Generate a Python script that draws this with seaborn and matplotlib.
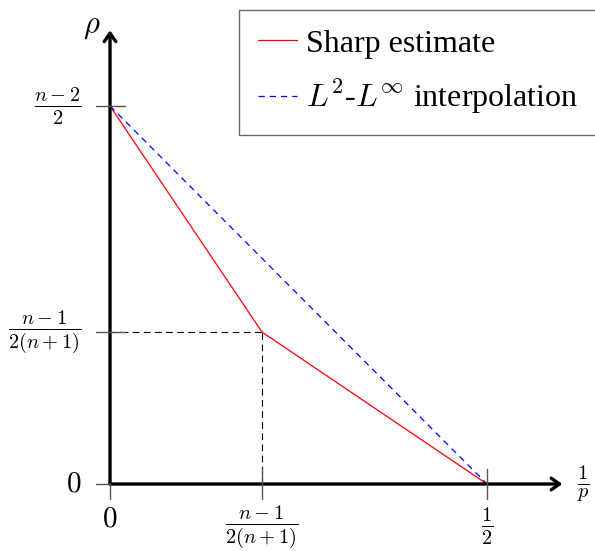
import matplotlib
matplotlib.use("Agg")
import matplotlib.pyplot as plt
import seaborn as sns
import pandas as pd

sns.set_theme(style="white")
plt.rcParams["mathtext.fontset"] = "cm"
plt.rcParams["font.family"] = ["Liberation Serif", "DejaVu Serif"]
plt.rcParams["text.color"] = "black"

# inverse exponent 1/p and decay rate rho (drawn in schematic units)
sharp_x = [0.0, 0.2016, 0.5]
sharp_y = [1.0, 0.402, 0.0]
interp_x = [0.0, 0.5]
interp_y = [1.0, 0.0]

x_ticks = [0.0, 0.2016, 0.5]
x_labels = [r"$0$", r"$\frac{n-1}{2(n+1)}$", r"$\frac{1}{2}$"]
y_ticks = [0.0, 0.402, 1.0]
y_labels = [r"$0$", r"$\frac{n-1}{2(n+1)}$", r"$\frac{n-2}{2}$"]

fig = plt.figure(figsize=(5.95, 5.51), dpi=100)
ax = fig.add_axes([0, 0, 1, 1])
ax.set_xlim(-0.1459, 0.6432)
ax.set_ylim(-0.1772, 1.2804)
ax.axis("off")

df_sharp = pd.DataFrame({"x": sharp_x, "y": sharp_y})
df_interp = pd.DataFrame({"x": interp_x, "y": interp_y})
sns.lineplot(data=df_sharp, x="x", y="y", ax=ax, color="red", lw=0.9,
             label="Sharp estimate", sort=False, zorder=3)
sns.lineplot(data=df_interp, x="x", y="y", ax=ax, color="blue", lw=0.9,
             label=r"$L^2$-$L^\infty$ interpolation", zorder=3)
ax.lines[-1].set_linestyle((0, (5, 4)))

# guide lines to the kink
ax.plot([0, sharp_x[1]], [sharp_y[1], sharp_y[1]], color="black", lw=0.8,
        ls=(0, (6, 4)), zorder=2)
ax.plot([sharp_x[1], sharp_x[1]], [0, sharp_y[1]], color="black", lw=0.8,
        ls=(0, (6, 4)), zorder=2)

# axes with arrows
arrow = dict(arrowstyle="->,head_length=0.5,head_width=0.35", lw=2.4,
             color="black", shrinkA=0, shrinkB=0)
ax.annotate("", xy=(0.6, 0), xytext=(0, 0), arrowprops=arrow, zorder=4)
ax.annotate("", xy=(0, 1.2), xytext=(0, 0), arrowprops=arrow, zorder=4)

# ticks
for xt in x_ticks:
    ax.plot([xt, xt], [-0.04, 0.04 if xt > 0 else 0], color="#555555", lw=1, zorder=5)
for yt in y_ticks:
    ax.plot([-0.019, 0.02 if yt > 0 else 0], [yt, yt], color="#555555", lw=1, zorder=5)

for xt, lab in zip(x_ticks, x_labels):
    if xt == 0:
        ax.text(xt, -0.095, lab, ha="center", va="center", fontsize=21)
    else:
        ax.text(xt, -0.113, lab, ha="center", va="center", fontsize=21)
for yt, lab in zip(y_ticks, y_labels):
    ax.text(-0.038, yt, lab, ha="right", va="center", fontsize=21)

ax.text(-0.024, 1.21, r"$\rho$", ha="center", va="center", fontsize=22)
ax.text(0.628, 0.0, r"$\frac{1}{p}$", ha="center", va="center", fontsize=21)

leg = ax.legend(loc="upper left", bbox_to_anchor=(239 / 595, 1 - 10 / 551),
                bbox_transform=fig.transFigure, borderaxespad=0, fontsize=23,
                frameon=True, fancybox=False, handlelength=1.2, handletextpad=0.3,
                borderpad=0.6, labelspacing=0.6, labelcolor="black")
leg.get_frame().set_edgecolor("#444444")
leg.get_frame().set_linewidth(1.0)

fig.savefig("out.png", dpi=100)
